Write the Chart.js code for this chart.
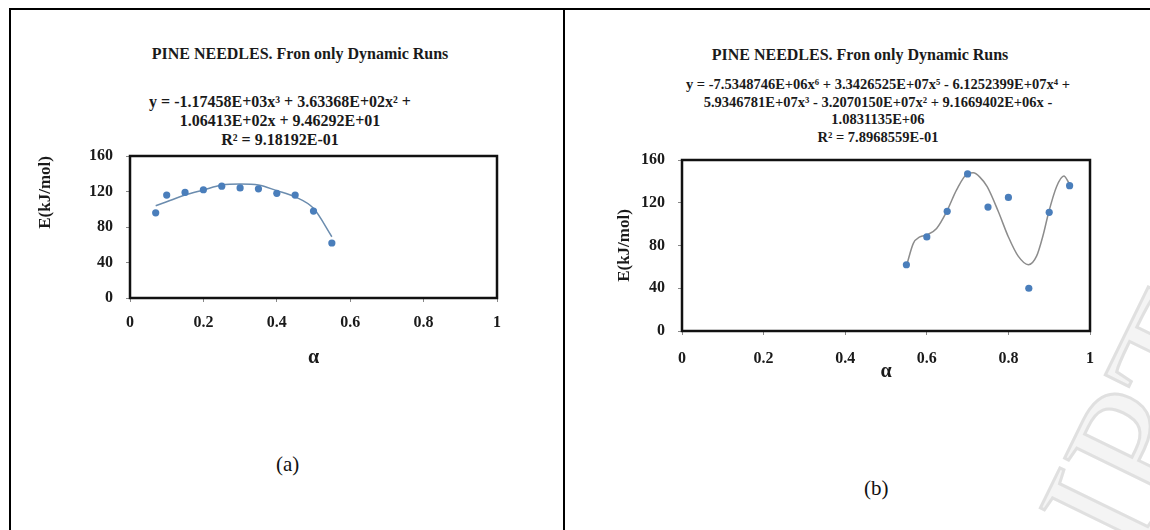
<!DOCTYPE html>
<html>
<head>
<meta charset="utf-8">
<script src="https://cdn.jsdelivr.net/npm/chart.js@4.4.1/dist/chart.umd.min.js"></script>
<style>
  html, body { margin: 0; padding: 0; background: #fff; }
  body { width: 1150px; height: 530px; position: relative; overflow: hidden; font-family: "Liberation Serif", "DejaVu Serif", serif; }
  .cell { position: absolute; border: 2px solid #000; }
  .txt { position: absolute; text-align: center; font-weight: bold; color: #1a1a1a; white-space: nowrap; }
  .lbl { position: absolute; font-size: 21px; color: #111; }
  canvas { position: absolute; }
  .wm { position: absolute; font-family: "Liberation Serif", serif; font-size: 170px; line-height: 170px;
        color: #f4f4f4; -webkit-text-stroke: 3px #e0e0e0; transform: rotate(-64deg); transform-origin: left top; white-space: nowrap; }
</style>
</head>
<body>
<div class="cell" style="left:9px; top:8px; width:1200px; height:600px;"></div>
<div class="cell" style="left:563px; top:8px; width:0; height:600px; border-width:0 0 0 2px;"></div>

<div class="wm" style="left:1010px; top:500px;">IPT</div>

<div class="txt" style="left:50px; width:500px; top:45px; font-size:16px;">PINE NEEDLES. Fron only Dynamic Runs</div>
<div class="txt" style="left:30px; width:500px; top:92px; font-size:16px; line-height:19px;">
  y = -1.17458E+03x³ + 3.63368E+02x² +<br>1.06413E+02x + 9.46292E+01<br>R² = 9.18192E-01
</div>

<div class="txt" style="left:610px; width:500px; top:46px; font-size:16px;">PINE NEEDLES. Fron only Dynamic Runs</div>
<div class="txt" style="left:628px; width:500px; top:76px; font-size:14.5px; line-height:17.7px;">
  y = -7.5348746E+06x⁶ + 3.3426525E+07x⁵ - 6.1252399E+07x⁴ +<br>5.9346781E+07x³ - 3.2070150E+07x² + 9.1669402E+06x -<br>1.0831135E+06<br>R² = 7.8968559E-01
</div>

<canvas id="chartA" width="560" height="240" style="left:0px; top:130px;"></canvas>
<canvas id="chartB" width="560" height="254" style="left:570px; top:130px;"></canvas>

<div class="lbl" style="left:276px; top:452px;">(a)</div>
<div class="lbl" style="left:864px; top:476px;">(b)</div>

<script>
// (a) points and trend line
const alphaA = [0.07, 0.1, 0.15, 0.2, 0.25, 0.3, 0.35, 0.4, 0.45, 0.5, 0.55];
const energyA = [96, 116, 119, 122, 126, 124, 123, 118, 116, 98, 62];
const fitAlphaA = [0.07, 0.1, 0.15, 0.2, 0.25, 0.3, 0.35, 0.4, 0.45, 0.5, 0.55];
const fitEnergyA = [104, 108.5, 116, 121.7, 127.3, 128.5, 127.3, 121, 114, 101, 69];

// (b)
const alphaB = [0.55, 0.6, 0.65, 0.7, 0.75, 0.8, 0.85, 0.9, 0.95];
const energyB = [62, 88, 112, 147, 116, 125, 40, 111, 136];
const fitAlphaB = [0.551, 0.567, 0.583, 0.601, 0.624, 0.649, 0.673, 0.699, 0.714, 0.730, 0.748, 0.775, 0.800, 0.824, 0.849, 0.869, 0.886, 0.898, 0.918, 0.936, 0.949];
const fitEnergyB = [62, 82, 88, 90, 96, 112, 132, 147, 148, 144, 135, 112, 88, 70, 62, 70, 91, 110, 135, 145, 138];

const xTicks = [0, 0.2, 0.4, 0.6, 0.8, 1];
const yTicks = [0, 40, 80, 120, 160];

const pts = (xs, ys) => xs.map((x, i) => ({ x: x, y: ys[i] }));

// black box round the plot area
const framePlugin = {
  id: 'frame',
  afterDraw(chart) {
    const { ctx, chartArea: a } = chart;
    ctx.save();
    ctx.strokeStyle = '#111';
    ctx.lineWidth = 2.5;
    ctx.strokeRect(a.left, a.top, a.right - a.left, a.bottom - a.top);
    ctx.restore();
  }
};

function makeChart(id, o) {
  const tickFont = { family: 'Liberation Serif', size: 16, weight: 'bold' };
  return new Chart(document.getElementById(id), {
    type: 'scatter',
    data: {
      datasets: [
        { data: pts(o.xs, o.ys), backgroundColor: '#4a7ebb', borderWidth: 0, pointRadius: 3.6, order: 1 },
        { data: pts(o.fx, o.fy), showLine: true, borderColor: o.lineColor, borderWidth: 1.5,
          pointRadius: 0, cubicInterpolationMode: 'monotone', order: 2 }
      ]
    },
    options: {
      responsive: false,
      animation: false,
      layout: { padding: o.pad },
      plugins: { legend: { display: false }, tooltip: { enabled: false } },
      scales: {
        x: {
          type: 'linear', min: 0, max: 1,
          afterBuildTicks: s => { s.ticks = xTicks.map(v => ({ value: v })); },
          afterFit: s => { s.height = o.xH; },
          grid: { drawOnChartArea: false, color: '#888', tickLength: 4 },
          border: { color: '#111', width: 2 },
          ticks: { color: '#1a1a1a', font: tickFont, padding: o.xPad, maxRotation: 0,
                   callback: v => String(+v.toFixed(1)) },
          title: { display: true, text: 'α', color: '#1a1a1a', padding: 0,
                   font: { family: 'Liberation Serif', size: 20, weight: 'bold' } }
        },
        y: {
          min: 0, max: 160,
          afterBuildTicks: s => { s.ticks = yTicks.map(v => ({ value: v })); },
          afterFit: s => { s.width = o.yW; },
          grid: { drawOnChartArea: false, color: '#888', tickLength: 4 },
          border: { color: '#111', width: 2 },
          ticks: { color: '#1a1a1a', font: tickFont, padding: o.yPad },
          title: { display: true, text: 'E(kJ/mol)', color: '#1a1a1a', align: o.yAlign, padding: 0,
                   font: { family: 'Liberation Serif', size: 17, weight: 'bold' } }
        }
      }
    },
    plugins: [framePlugin]
  });
}

makeChart('chartA', {
  xs: alphaA, ys: energyA, fx: fitAlphaA, fy: fitEnergyA, lineColor: '#6b8cae',
  pad: { left: 35, top: 26, right: 63, bottom: 0 }, yW: 95, xH: 72, xPad: 11, yPad: 13, yAlign: 'end'
});
makeChart('chartB', {
  xs: alphaB, ys: energyB, fx: fitAlphaB, fy: fitEnergyB, lineColor: '#8c8c8c',
  pad: { left: 44, top: 30, right: 40, bottom: 0 }, yW: 68, xH: 53, xPad: 14, yPad: 13, yAlign: 'center'
});
</script>
</body>
</html>
